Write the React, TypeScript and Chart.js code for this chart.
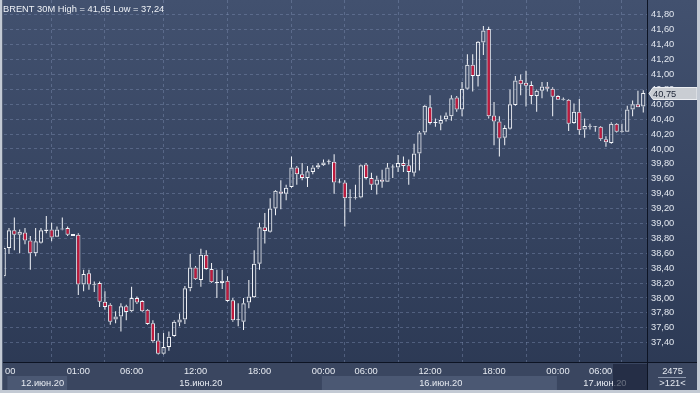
import React, { useEffect, useRef } from 'react';
import { Chart, registerables } from 'chart.js';

Chart.register(...registerables);

// ---- Data (30-minute BRENT candles) ----
const opens = [
  38.29, 38.67, 38.91, 38.85, 38.88, 38.77, 38.60, 38.74, 38.90, 38.92,
  38.82, 38.92, 38.94, 38.86, 38.85, 38.18, 38.33, 38.18, 38.20, 37.95,
  37.91, 37.71, 37.75, 37.89, 37.82, 38.00, 37.96, 37.84, 37.66, 37.43,
  37.25, 37.34, 37.49, 37.67, 37.71, 38.13, 38.41, 38.24, 38.58, 38.39,
  38.20, 38.20, 38.23, 37.97, 37.70, 37.68, 37.94, 38.01, 38.46, 38.95,
  38.89, 39.20, 39.43, 39.40, 39.49, 39.75, 39.66, 39.61, 39.69, 39.75,
  39.78, 39.83, 39.83, 39.55, 39.55, 39.35, 39.34, 39.35, 39.79, 39.61,
  39.52, 39.59, 39.56, 39.75, 39.75, 39.81, 39.78, 39.68, 39.94, 40.22,
  40.56, 40.35, 40.34, 40.40, 40.44, 40.69, 40.53, 40.81, 41.13, 40.98,
  41.43, 41.61, 40.45, 40.37, 40.15, 40.27, 40.59, 40.93, 40.89, 40.86,
  40.71, 40.78, 40.84, 40.81, 40.71, 40.66, 40.66, 40.35, 40.50, 40.26,
  40.30, 40.30, 40.30, 40.13, 40.08, 40.34, 40.23, 40.23, 40.53, 40.60,
  40.57,
];
const highs = [
  38.70, 38.94, 39.08, 38.92, 38.94, 38.83, 38.94, 38.94, 39.10, 39.01,
  38.96, 39.08, 38.96, 38.86, 38.87, 38.38, 38.38, 38.22, 38.22, 38.09,
  37.93, 37.82, 37.93, 37.91, 38.15, 38.02, 37.97, 37.85, 37.70, 37.53,
  37.53, 37.55, 37.70, 37.79, 38.16, 38.59, 38.43, 38.66, 38.64, 38.47,
  38.38, 38.38, 38.29, 38.00, 37.93, 38.00, 38.24, 38.64, 39.01, 39.14,
  39.34, 39.45, 39.58, 39.52, 39.90, 39.77, 39.81, 39.77, 39.78, 39.81,
  39.86, 39.86, 39.93, 39.60, 39.58, 39.46, 39.52, 39.79, 39.81, 39.68,
  39.64, 39.72, 39.81, 39.79, 39.92, 39.90, 39.86, 40.07, 40.24, 40.59,
  40.72, 40.41, 40.45, 40.49, 40.72, 40.71, 40.90, 41.27, 41.27, 41.45,
  41.65, 41.64, 40.63, 40.44, 40.32, 40.80, 40.98, 41.00, 41.05, 40.91,
  40.80, 40.90, 40.90, 40.83, 40.72, 40.69, 40.67, 40.61, 40.67, 40.41,
  40.34, 40.31, 40.31, 40.17, 40.36, 40.35, 40.34, 40.58, 40.65, 40.78,
  40.79,
];
const lows = [
  38.27, 38.59, 38.64, 38.60, 38.72, 38.38, 38.56, 38.73, 38.87, 38.76,
  38.82, 38.91, 38.83, 38.83, 38.04, 38.09, 38.11, 38.08, 37.88, 37.84,
  37.64, 37.66, 37.55, 37.70, 37.81, 37.92, 37.81, 37.64, 37.40, 37.24,
  37.24, 37.29, 37.48, 37.62, 37.65, 38.09, 38.24, 38.15, 38.38, 38.20,
  38.00, 38.12, 37.95, 37.68, 37.62, 37.57, 37.86, 38.00, 38.38, 38.73,
  38.88, 39.11, 39.19, 39.31, 39.48, 39.52, 39.58, 39.49, 39.66, 39.73,
  39.77, 39.79, 39.40, 39.54, 38.96, 39.15, 39.32, 39.34, 39.59, 39.45,
  39.39, 39.48, 39.56, 39.61, 39.69, 39.69, 39.52, 39.63, 39.71, 40.19,
  40.33, 40.30, 40.25, 40.37, 40.38, 40.50, 40.44, 40.80, 40.77, 40.84,
  41.26, 40.41, 40.05, 39.90, 40.05, 40.26, 40.58, 40.72, 40.57, 40.60,
  40.50, 40.68, 40.77, 40.44, 40.66, 40.65, 40.24, 40.34, 40.19, 40.15,
  40.26, 40.23, 40.11, 40.03, 40.07, 40.22, 40.22, 40.23, 40.44, 40.56,
  40.49,
];
const closes = [
  38.67, 38.91, 38.85, 38.89, 38.77, 38.60, 38.76, 38.91, 38.92, 38.81,
  38.92, 38.93, 38.85, 38.83, 38.18, 38.32, 38.18, 38.17, 37.95, 37.88,
  37.68, 37.75, 37.89, 37.81, 38.00, 37.94, 37.82, 37.65, 37.42, 37.25,
  37.34, 37.48, 37.68, 37.71, 38.13, 38.41, 38.25, 38.58, 38.39, 38.21,
  38.21, 38.23, 37.96, 37.70, 37.70, 37.93, 38.02, 38.46, 38.95, 38.90,
  39.20, 39.44, 39.40, 39.48, 39.75, 39.66, 39.61, 39.70, 39.75, 39.78,
  39.82, 39.83, 39.55, 39.55, 39.34, 39.34, 39.35, 39.78, 39.61, 39.52,
  39.59, 39.56, 39.75, 39.75, 39.81, 39.77, 39.69, 39.94, 40.22, 40.58,
  40.35, 40.35, 40.39, 40.45, 40.68, 40.53, 40.81, 41.13, 40.98, 41.44,
  41.59, 40.44, 40.37, 40.14, 40.28, 40.60, 40.92, 40.87, 40.85, 40.71,
  40.78, 40.84, 40.81, 40.70, 40.66, 40.67, 40.34, 40.50, 40.25, 40.31,
  40.31, 40.29, 40.13, 40.09, 40.34, 40.23, 40.24, 40.53, 40.60, 40.56,
  40.75,
];

const yTickValues = [
  37.4, 37.6, 37.8, 38.0, 38.2, 38.4, 38.6, 38.8, 39.0, 39.2, 39.4, 39.6,
  39.8, 40.0, 40.2, 40.4, 40.6, 40.8, 41.0, 41.2, 41.4, 41.6, 41.8,
];
const gridIndices = [14, 24, 36, 48, 60, 68, 80, 92, 104, 112];
const timeTickIndices = [0, 14, 24, 36, 48, 60, 68, 80, 92, 104, 112];
const timeTickLabels = ['00:00', '01:00', '06:00', '12:00', '18:00', '00:00', '06:00', '12:00', '18:00', '00:00', '06:00'];
const dateLabels = ['12.июн.20', '15.июн.20', '16.июн.20', '17.июн.20'];
const dateStartIdx = [0.7, 11.9, 59.7, 103.8];
const dateEndIdx = [11.9, 59.7, 103.8, 120.7];
const dateTextIdx = [7.3, 37, 82, 112.8];
const dateShaded = [true, false, true, false];
const titleText = 'BRENT 30M High = 41,65 Low = 37,24';
const totalBarsText = '2475';
const visibleBarsText = '>121<';

const RED = '#bf1a3d';
const WHITE = '#f4f6fa';
const FONT = '"Liberation Sans", Arial, sans-serif';

const fmt = (v: number) => v.toFixed(2).replace('.', ',');

export default function App() {
  const ref = useRef<HTMLCanvasElement>(null);

  useEffect(() => {
    const canvas = ref.current;
    if (!canvas) return;
    const idx = opens.map((_, i) => i);
    const bodyFill = idx.map((i) => (closes[i] >= opens[i] ? 'rgba(0,0,0,0)' : RED));

    const bgPlugin = {
      id: 'bg',
      beforeDraw(chart: any) {
        const ctx = chart.ctx as CanvasRenderingContext2D;
        const g = ctx.createLinearGradient(0, 0, 0, 393);
        g.addColorStop(0, '#42516f');
        g.addColorStop(1, '#2b3853');
        ctx.save();
        ctx.fillStyle = g;
        ctx.fillRect(0, 0, 700, 393);
        ctx.restore();
      },
    };

    const decorPlugin = {
      id: 'decor',
      afterDraw(chart: any) {
        const ctx = chart.ctx as CanvasRenderingContext2D;
        const xs = chart.scales.x;
        const ys = chart.scales.y;
        const ca = chart.chartArea;
        ctx.save();
        // bottom axis band
        ctx.fillStyle = '#3a4660';
        ctx.fillRect(3, ca.bottom, 694, 390 - ca.bottom);
        // date boxes
        dateLabels.forEach((_, k) => {
          if (!dateShaded[k]) return;
          const x1 = Math.max(xs.getPixelForValue(dateStartIdx[k]), 7);
          const x2 = Math.min(xs.getPixelForValue(dateEndIdx[k]), ca.right);
          ctx.fillStyle = '#4b5873';
          ctx.fillRect(x1, 376, x2 - x1, 14);
        });
        // time labels
        ctx.save();
        ctx.beginPath();
        ctx.rect(5, ca.bottom, ca.right - 5, 30);
        ctx.clip();
        ctx.font = `9.3px ${FONT}`;
        ctx.fillStyle = '#e6eaf1';
        ctx.textAlign = 'center';
        ctx.textBaseline = 'middle';
        timeTickIndices.forEach((t, k) => {
          ctx.fillText(timeTickLabels[k], xs.getPixelForValue(t), 371);
        });
        dateLabels.forEach((d, k) => {
          ctx.fillText(d, xs.getPixelForValue(dateTextIdx[k]), 383.5);
        });
        ctx.restore();
        // darker overlay at right end of time axis
        ctx.fillStyle = 'rgba(24,33,55,0.62)';
        ctx.fillRect(613, ca.bottom + 2, ca.right - 613, 390 - ca.bottom - 2);
        // axis lines
        ctx.strokeStyle = '#0d1424';
        ctx.lineWidth = 1;
        ctx.beginPath();
        ctx.moveTo(ca.right + 0.5, 0);
        ctx.lineTo(ca.right + 0.5, 390);
        ctx.moveTo(3, ca.bottom + 0.5);
        ctx.lineTo(697, ca.bottom + 0.5);
        ctx.stroke();
        // corner info
        ctx.font = `9.3px ${FONT}`;
        ctx.fillStyle = '#e6eaf1';
        ctx.textAlign = 'center';
        ctx.textBaseline = 'middle';
        ctx.fillText(totalBarsText, 672.5, 371);
        ctx.fillText(visibleBarsText, 672.5, 383.5);
        ctx.strokeStyle = '#8d98ad';
        ctx.beginPath();
        ctx.moveTo(658, 377.5);
        ctx.lineTo(686, 377.5);
        ctx.stroke();
        // price tag
        const last = closes[closes.length - 1];
        const py = Math.round(ys.getPixelForValue(last)) + 0.5;
        ctx.beginPath();
        ctx.moveTo(ca.right + 2, py);
        ctx.lineTo(ca.right + 6, py - 6);
        ctx.lineTo(697, py - 6);
        ctx.lineTo(697, py + 6);
        ctx.lineTo(ca.right + 6, py + 6);
        ctx.closePath();
        ctx.fillStyle = '#c9cdd3';
        ctx.fill();
        ctx.strokeStyle = '#eceef2';
        ctx.stroke();
        ctx.fillStyle = '#1c2436';
        ctx.textAlign = 'left';
        ctx.fillText(fmt(last), ca.right + 6, py + 0.5);
        // frame
        ctx.fillStyle = '#c3cad4';
        ctx.fillRect(0, 0, 2, 393);
        ctx.fillRect(697, 0, 3, 393);
        ctx.fillRect(0, 390, 700, 3);
        ctx.fillStyle = '#59647a';
        ctx.fillRect(2, 0, 1, 390);
        // title
        ctx.font = `9.3px ${FONT}`;
        ctx.fillStyle = '#eef1f6';
        ctx.textAlign = 'left';
        ctx.textBaseline = 'alphabetic';
        ctx.fillText(titleText, 3, 12);
        ctx.restore();
      },
    };

    const chart = new Chart(canvas, {
      type: 'bar',
      data: {
        datasets: [
          {
            label: 'body',
            data: idx.map((i) => ({ x: i, y: [opens[i], closes[i]] })) as any,
            backgroundColor: bodyFill,
            borderColor: WHITE,
            borderWidth: 1,
            borderSkipped: false,
            grouped: false,
            categoryPercentage: 1,
            barPercentage: 1,
            maxBarThickness: 4.3,
            minBarLength: 1,
            inflateAmount: 0,
            clip: 0,
          } as any,
          {
            label: 'upperWick',
            data: idx.map((i) => ({ x: i, y: [Math.max(opens[i], closes[i]), highs[i]] })) as any,
            backgroundColor: WHITE,
            borderWidth: 0,
            grouped: false,
            categoryPercentage: 1,
            barPercentage: 1,
            maxBarThickness: 1,
            inflateAmount: 0,
            clip: 0,
          } as any,
          {
            label: 'lowerWick',
            data: idx.map((i) => ({ x: i, y: [lows[i], Math.min(opens[i], closes[i])] })) as any,
            backgroundColor: WHITE,
            borderWidth: 0,
            grouped: false,
            categoryPercentage: 1,
            barPercentage: 1,
            maxBarThickness: 1,
            inflateAmount: 0,
            clip: 0,
          } as any,
        ],
      },
      options: {
        animation: false,
        responsive: false,
        devicePixelRatio: 1,
        events: [],
        layout: { padding: { left: 4, right: 3, top: 0, bottom: 3 } },
        plugins: { legend: { display: false }, tooltip: { enabled: false }, title: { display: false } },
        scales: {
          x: {
            type: 'linear',
            position: 'bottom',
            min: 0.062,
            max: 120.7,
            offset: false,
            afterBuildTicks: (scale: any) => {
              scale.ticks = gridIndices.map((v) => ({ value: v }));
            },
            afterFit: (scale: any) => {
              scale.height = 28;
              scale.paddingLeft = 0;
              scale.paddingRight = 0;
            },
            ticks: { display: false },
            grid: { color: 'rgba(128,146,182,0.42)', lineWidth: 1, drawTicks: false },
            border: { display: false, dash: [3, 3] },
          },
          y: {
            type: 'linear',
            position: 'right',
            min: 37.14,
            max: 42.0,
            afterBuildTicks: (scale: any) => {
              scale.ticks = yTickValues.map((v) => ({ value: v }));
            },
            afterFit: (scale: any) => {
              scale.width = 50;
              scale.paddingTop = 0;
              scale.paddingBottom = 0;
            },
            ticks: {
              padding: 4,
              color: '#e2e7ef',
              font: { family: FONT, size: 9.3 },
              callback: (v: any) => fmt(Number(v)),
            },
            grid: { color: 'rgba(128,146,182,0.42)', lineWidth: 1, drawTicks: false },
            border: { display: false, dash: [3, 3] },
          },
        },
      } as any,
      plugins: [bgPlugin, decorPlugin],
    });

    return () => {
      chart.destroy();
    };
  }, []);

  return (
    <div style={{ position: 'absolute', left: 0, top: 0, width: 700, height: 393 }}>
      <canvas ref={ref} width={700} height={393} style={{ display: 'block', width: 700, height: 393 }} />
    </div>
  );
}
